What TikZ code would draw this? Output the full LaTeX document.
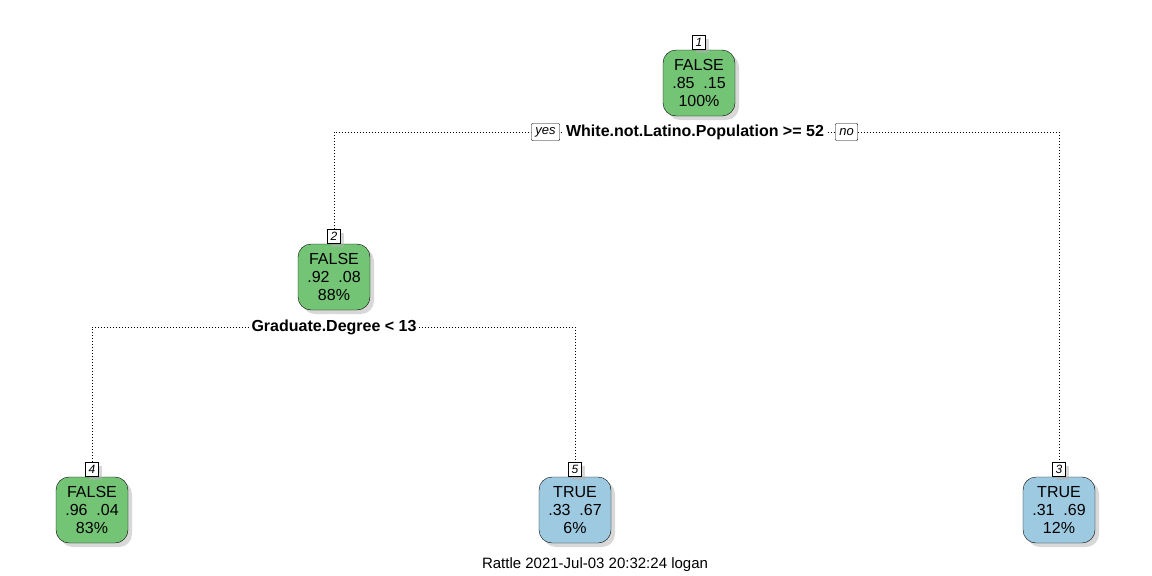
\documentclass[tikz,border=0pt]{standalone}
\usepackage{fontspec}
\setmainfont{Liberation Sans}
\usetikzlibrary{positioning,shadows}

\definecolor{leafgreen}{RGB}{116,196,118}
\definecolor{leafblue}{RGB}{158,202,225}

\begin{document}
\begin{tikzpicture}
  [x=1pt,y=-1pt,every node/.style={inner sep=0pt},
   treenode/.style={draw,rounded corners=13pt,minimum width=72pt,minimum height=66pt,
     align=center,font=\fontsize{16}{18}\selectfont,
     drop shadow={shadow xshift=4pt,shadow yshift=-4pt,fill=black!30}},
   falsenode/.style={treenode,fill=leafgreen},
   truenode/.style={treenode,fill=leafblue},
   numbox/.style={draw,fill=white,minimum width=13pt,minimum height=14pt,
     font=\fontsize{12}{12}\itshape\selectfont,
     drop shadow={shadow xshift=3pt,shadow yshift=-3pt,fill=black!30}},
   answer/.style={draw,fill=white,rounded corners=1pt,inner xsep=4pt,minimum height=17pt,
     font=\fontsize{13}{13}\itshape\selectfont},
   cond/.style={fill=white,inner xsep=3pt,font=\fontsize{16}{18}\bfseries\selectfont},
   split/.style={dash pattern=on 1pt off 2pt}]
  \useasboundingbox (0,0) rectangle (1152,576);

  % tree nodes
  \node[falsenode] (n1) at (699,83)  {FALSE\\.85\ \ .15\\100\%};
  \node[falsenode] (n2) at (334,277) {FALSE\\.92\ \ .08\\88\%};
  \node[falsenode] (n4) at (92,510)  {FALSE\\.96\ \ .04\\83\%};
  \node[truenode]  (n5) at (575,510) {TRUE\\.33\ \ .67\\6\%};
  \node[truenode]  (n3) at (1059,510) {TRUE\\.31\ \ .69\\12\%};

  % node numbers
  \foreach \n in {1,2,3,4,5}
    \node[numbox,above=0pt of n\n] (l\n) {\n};

  % splits
  \coordinate (s1) at (699,132);
  \coordinate (s2) at (334,327);
  \draw[split] (l2.north) |- (s1) -| (l3.north);
  \draw[split] (l4.north) |- (s2) -| (l5.north);

  \node[cond] (c1) at (695,132) {White.not.Latino.Population >= 52};
  \node[answer,left=3pt of c1] (yes) {yes};
  \node[answer,right=8pt of c1] (no) {no};
  \node[cond] (c2) at (334,327) {Graduate.Degree < 13};

  \node[font=\fontsize{15}{18}\selectfont] (stamp) at (595,565) {Rattle 2021-Jul-03 20:32:24 logan};
\end{tikzpicture}
\end{document}
